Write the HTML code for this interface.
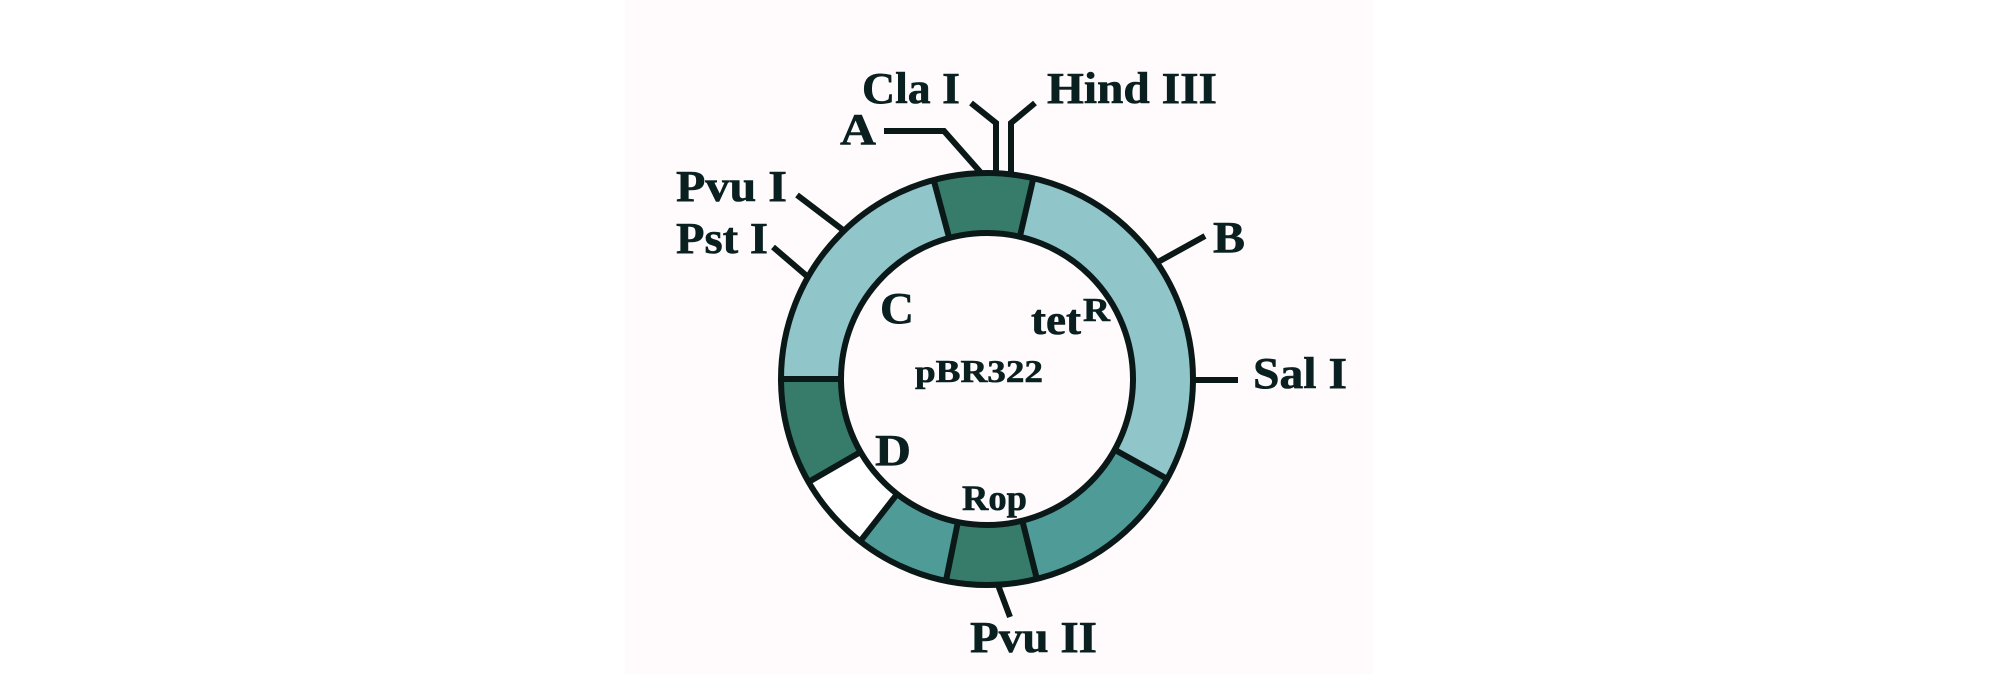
<!DOCTYPE html>
<html><head><meta charset="utf-8"><style>
html,body{margin:0;padding:0;background:#fff;}
svg{display:block;}
text{font-family:"Liberation Serif",serif;font-weight:bold;fill:#0a2020;stroke:#0a2020;stroke-width:0.6;}
</style></head><body>
<svg width="2000" height="700" viewBox="0 0 2000 700" xmlns="http://www.w3.org/2000/svg">
<rect x="625" y="0" width="748" height="674" fill="#fffbfc"/>
<g fill="none" stroke-width="61">
<circle cx="987" cy="379" r="176.5" stroke="#377c6a" stroke-dasharray="86.3 2000" transform="rotate(-105 987 379)"/>
<circle cx="987" cy="379" r="176.5" stroke="#90c5c9" stroke-dasharray="326.5 2000" transform="rotate(-77 987 379)"/>
<circle cx="987" cy="379" r="176.5" stroke="#4f9b98" stroke-dasharray="144.8 2000" transform="rotate(29 987 379)"/>
<circle cx="987" cy="379" r="176.5" stroke="#377c6a" stroke-dasharray="80.1 2000" transform="rotate(76 987 379)"/>
<circle cx="987" cy="379" r="176.5" stroke="#4f9b98" stroke-dasharray="80.1 2000" transform="rotate(102 987 379)"/>
<circle cx="987" cy="379" r="176.5" stroke="#ffffff" stroke-dasharray="67.8 2000" transform="rotate(128 987 379)"/>
<circle cx="987" cy="379" r="176.5" stroke="#377c6a" stroke-dasharray="92.4 2000" transform="rotate(150 987 379)"/>
<circle cx="987" cy="379" r="176.5" stroke="#90c5c9" stroke-dasharray="231.0 2000" transform="rotate(180 987 379)"/>
</g>
<g stroke="#0a1818" stroke-width="6" fill="none">
<circle cx="987" cy="379" r="206"/>
<circle cx="987" cy="379" r="146"/>
<g stroke-linecap="butt">
<line x1="987" y1="233" x2="987" y2="173" transform="rotate(-15 987 379)"/>
<line x1="987" y1="233" x2="987" y2="173" transform="rotate(13 987 379)"/>
<line x1="987" y1="233" x2="987" y2="173" transform="rotate(119 987 379)"/>
<line x1="987" y1="233" x2="987" y2="173" transform="rotate(166 987 379)"/>
<line x1="987" y1="233" x2="987" y2="173" transform="rotate(191.5 987 379)"/>
<line x1="987" y1="233" x2="987" y2="173" transform="rotate(218 987 379)"/>
<line x1="987" y1="233" x2="987" y2="173" transform="rotate(240 987 379)"/>
<line x1="987" y1="233" x2="987" y2="173" transform="rotate(270 987 379)"/>
</g>
<polyline points="971,103 996,123 996,174"/>
<polyline points="1035,103 1011,123 1011,174"/>
<polyline points="884,131 944,131 982,174"/>
<line x1="797" y1="195" x2="843" y2="230"/>
<line x1="773" y1="247" x2="808" y2="277"/>
<line x1="1158" y1="262" x2="1205" y2="236"/>
<line x1="1195" y1="380" x2="1238" y2="380"/>
<line x1="998" y1="585" x2="1010" y2="617"/>
</g>
<text x="862" y="103" font-size="44" textLength="98" lengthAdjust="spacingAndGlyphs">Cla I</text>
<text x="1047" y="103" font-size="44" textLength="170" lengthAdjust="spacingAndGlyphs">Hind III</text>
<text x="840" y="144" font-size="44" textLength="36" lengthAdjust="spacingAndGlyphs">A</text>
<text x="676" y="201" font-size="44" textLength="111" lengthAdjust="spacingAndGlyphs">Pvu I</text>
<text x="676" y="253" font-size="44" textLength="92" lengthAdjust="spacingAndGlyphs">Pst I</text>
<text x="1213" y="252" font-size="44" textLength="32" lengthAdjust="spacingAndGlyphs">B</text>
<text x="1253" y="388" font-size="44" textLength="94" lengthAdjust="spacingAndGlyphs">Sal I</text>
<text x="880" y="323" font-size="44" textLength="34" lengthAdjust="spacingAndGlyphs">C</text>
<text x="1031" y="334" font-size="42" textLength="50" lengthAdjust="spacingAndGlyphs">tet</text>
<text x="1083" y="321" font-size="34" textLength="27" lengthAdjust="spacingAndGlyphs">R</text>
<text x="915" y="382" font-size="32" textLength="128" lengthAdjust="spacingAndGlyphs">pBR322</text>
<text x="875" y="465" font-size="44" textLength="36" lengthAdjust="spacingAndGlyphs">D</text>
<text x="962" y="510" font-size="36" textLength="65" lengthAdjust="spacingAndGlyphs">Rop</text>
<text x="970" y="652" font-size="44" textLength="127" lengthAdjust="spacingAndGlyphs">Pvu II</text>
</svg>
</body></html>
